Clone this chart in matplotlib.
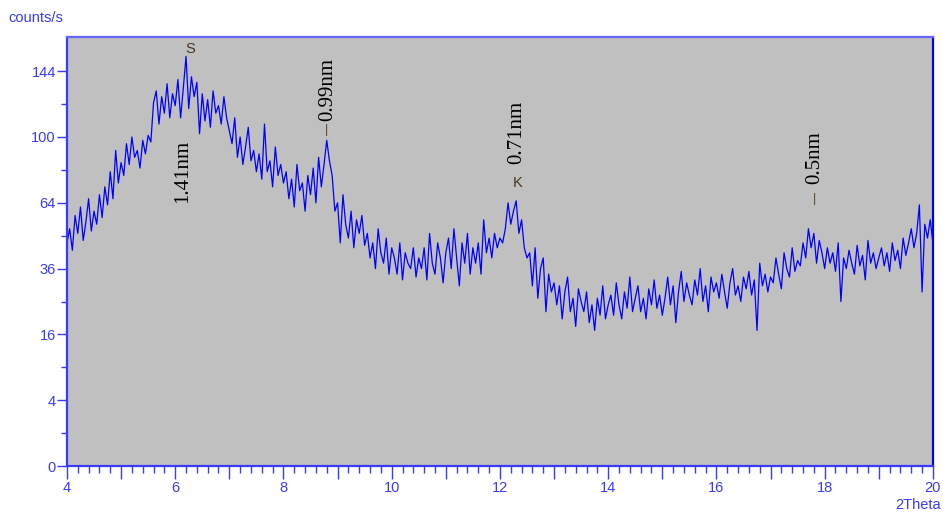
import numpy as np
import matplotlib.pyplot as plt
from matplotlib.ticker import FixedLocator

# --- data (counts/s every 0.05 deg 2theta) ---
counts = [
    46, 52, 43, 58, 50, 62, 47, 55, 66, 51, 60,
    54, 68, 57, 72, 63, 80, 66, 92, 74, 85,
    78, 96, 84, 100, 88, 92, 82, 98, 90, 101,
    97, 122, 130, 108, 126, 115, 135, 112, 128, 120,
    138, 112, 132, 155, 118, 140, 126, 136, 102, 128,
    110, 124, 106, 130, 115, 120, 108, 126, 112, 104,
    96, 112, 88, 100, 84, 94, 106, 86, 92, 80,
    90, 76, 108, 80, 86, 72, 94, 78, 84, 74,
    80, 66, 76, 62, 84, 70, 74, 60, 78, 68,
    82, 64, 88, 72, 84, 98, 86, 78, 60, 64,
    46, 68, 54, 48, 60, 44, 56, 50, 58, 45,
    50, 40, 46, 36, 52, 42, 38, 48, 34, 44,
    40, 34, 46, 32, 42, 38, 36, 44, 33, 40,
    36, 44, 32, 50, 38, 34, 46, 40, 31, 42,
    48, 36, 52, 40, 30, 46, 38, 50, 34, 44,
    38, 46, 34, 56, 42, 48, 40, 50, 44, 48,
    46, 52, 64, 54, 60, 65, 50, 56, 44, 40,
    42, 30, 44, 26, 36, 40, 22, 34, 28, 31,
    24, 30, 20, 28, 33, 22, 26, 18, 29, 25,
    22, 28, 19, 24, 17, 26, 21, 30, 20, 24,
    27, 21, 31, 24, 20, 28, 23, 33, 22, 26,
    30, 22, 26, 20, 29, 24, 32, 23, 27, 21,
    26, 33, 24, 30, 19, 28, 35, 25, 31, 27,
    24, 32, 27, 36, 25, 30, 22, 33, 28, 31,
    26, 34, 28, 23, 31, 36, 27, 30, 25, 33,
    29, 35, 27, 32, 17, 38, 30, 34, 28, 33,
    31, 40, 34, 29, 42, 36, 33, 44, 35, 39,
    37, 46, 40, 52, 44, 50, 38, 47, 42, 36,
    44, 38, 42, 35, 46, 25, 40, 36, 43, 38,
    34, 45, 37, 41, 32, 47, 38, 42, 36, 40,
    44, 37, 42, 35, 46, 39, 43, 36, 48, 41,
    46, 52, 44, 50, 63, 28, 54, 48, 56, 46,
]
two_theta = np.linspace(4, 20, len(counts))

y_ticks = [0, 4, 16, 36, 64, 100, 144]
y_minor = [1, 9, 25, 49, 81, 121]
x_ticks = [4, 6, 8, 10, 12, 14, 16, 18, 20]

# peak labels: (text, x, y)
peak_labels = [("1.41nm", 6.14, 80), ("0.99nm", 8.82, 131),
               ("0.71nm", 12.31, 103), ("0.5nm", 17.82, 88)]
peak_letters = [("S", 6.27, 161), ("K", 12.33, 74)]
peak_marks = [(8.80, 104), (17.82, 66)]

blue = '#3a3aff'

fig = plt.figure(figsize=(9.43, 5.15), dpi=100)
ax = fig.add_axes([0.0710, 0.0951, 0.9183, 0.8330])
ax.set_facecolor('#c0c0c0')

ax.set_yscale('function', functions=(lambda v: np.sqrt(np.clip(v, 0, None)),
                                     lambda v: np.square(v)))
ax.plot(two_theta, counts, color='#0000ff', lw=0.9)

ax.set_xlim(4, 20)
ax.set_ylim(0, 170)

ax.set_yticks(y_ticks)
ax.set_yticklabels([str(t) for t in y_ticks])
ax.yaxis.set_minor_locator(FixedLocator(y_minor))
ax.set_xticks(x_ticks)
ax.set_xticks(np.arange(4, 20.01, 0.2), minor=True)
ax.set_xticks(np.arange(4, 21, 1), minor=False)
ax.set_xticklabels([str(int(t)) if t % 2 == 0 else '' for t in np.arange(4, 21, 1)])

for lab in ax.get_xticklabels() + ax.get_yticklabels():
    lab.set_family('Liberation Sans')
    lab.set_fontsize(10.5)
ax.tick_params(axis='both', which='both', colors=blue, direction='out')
ax.tick_params(axis='y', which='major', length=7, width=1, pad=1)
ax.tick_params(axis='y', which='minor', length=4, width=1)
ax.tick_params(axis='x', which='major', length=9, width=1, pad=2)
ax.tick_params(axis='x', which='minor', length=5, width=1)

ax.spines['left'].set_color(blue)
ax.spines['bottom'].set_color(blue)
ax.spines['top'].set_color('#6464ff')
ax.spines['right'].set_color('#0000ff')
for s in ax.spines.values():
    s.set_linewidth(1.6)

fig.text(0.009, 0.965, 'counts/s', color=blue, fontsize=10.5,
         family='Liberation Sans', va='center', ha='left')
fig.text(0.998, 0.02, '2Theta', color=blue, fontsize=10.5,
         family='Liberation Sans', va='center', ha='right')

for txt, x, y in peak_labels:
    ax.text(x, y, txt, rotation=90, ha='center', va='center',
            fontsize=15, family='Liberation Serif', color='black')
for txt, x, y in peak_letters:
    ax.text(x, y, txt, ha='center', va='center', fontsize=10.5,
            family='Liberation Sans', color='#4a3520')
for x, y in peak_marks:
    ax.text(x, y, '|', ha='center', va='center', fontsize=9,
            family='Liberation Sans', color='#5a4020')

fig.savefig('out.png', dpi=100)
